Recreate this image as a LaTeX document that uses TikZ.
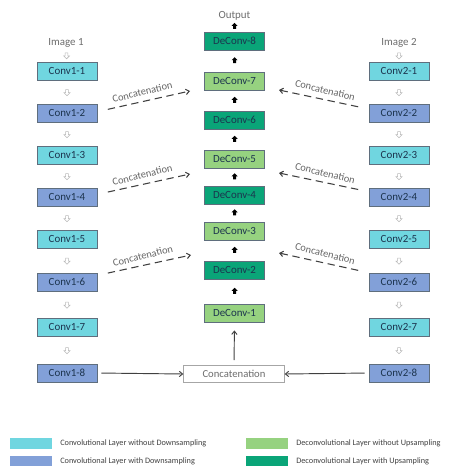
\documentclass[tikz,border=0pt]{standalone}
\usepackage{fontspec}
\setmainfont{Carlito}
\usepackage{tikz}
\usetikzlibrary{calc,shapes.arrows,arrows.meta}

\definecolor{convplain}{RGB}{112,214,224}
\definecolor{convdown}{RGB}{130,160,216}
\definecolor{deplain}{RGB}{150,210,128}
\definecolor{deup}{RGB}{10,165,120}
\definecolor{boxline}{RGB}{95,110,125}
\definecolor{boxtext}{RGB}{28,52,78}

\tikzset{
  layer/.style={draw=boxline, line width=0.6pt, minimum width=45pt, minimum height=13.5pt, inner sep=0pt, text=boxtext, font=\fontsize{8.2}{9}\selectfont},
  cplain/.style={layer, fill=convplain},
  cdown/.style={layer, fill=convdown},
  dplain/.style={layer, fill=deplain},
  dup/.style={layer, fill=deup},
  hollowarr/.style={single arrow, draw=gray!55, fill=white, line width=0.4pt, shape border rotate=270, minimum height=4.5pt, minimum width=4.5pt, single arrow head extend=1pt, inner sep=0.7pt},
  blackarr/.style={single arrow, draw=none, fill=black, shape border rotate=90, minimum height=4.5pt, minimum width=4.5pt, single arrow head extend=1pt, inner sep=0.8pt},
  concat/.style={dashed, dash pattern=on 5.5pt off 3.5pt, line width=0.8pt, black!75, -{Straight Barb[length=2.5pt,width=4pt]}, shorten <=8pt},
  concatlbl/.style={text=gray!80!black, font=\fontsize{7.8}{9}\selectfont, inner sep=1pt},
  plainlbl/.style={text=gray!85!black, font=\fontsize{8.2}{9}\selectfont, inner sep=0.75pt},
  swatch/.style={minimum width=31.5pt, minimum height=8pt, inner sep=0pt},
  legtext/.style={anchor=west, text=black!75, font=\fontsize{6.2}{7}\selectfont, inner sep=0pt},
}

\begin{document}
\begin{tikzpicture}[x=0.75pt,y=0.75pt,yscale=-1,xscale=1]
\useasboundingbox (0,0) rectangle (467,467);

% Text Node
\node (img1) at (66,43) [plainlbl] {Image 1};
% Text Node
\node (img2) at (399,43) [plainlbl] {Image 2};
% Text Node
\node (out) at (234.5,16) [plainlbl] {Output};

%Shape: Rectangle -- encoder of image 1
\node (c11) at (67,71) [cplain] {Conv1-1};
\node (c12) at (67,113) [cdown] {Conv1-2};
\node (c13) at (67,155) [cplain] {Conv1-3};
\node (c14) at (67,197) [cdown] {Conv1-4};
\node (c15) at (67,239) [cplain] {Conv1-5};
\node (c16) at (67,282) [cdown] {Conv1-6};
\node (c17) at (67,327) [cplain] {Conv1-7};
\node (c18) at (67,373) [cdown] {Conv1-8};

%Shape: Rectangle -- encoder of image 2
\node (c21) at (399,71) [cplain] {Conv2-1};
\node (c22) at (399,113) [cdown] {Conv2-2};
\node (c23) at (399,155) [cplain] {Conv2-3};
\node (c24) at (399,197) [cdown] {Conv2-4};
\node (c25) at (399,239) [cplain] {Conv2-5};
\node (c26) at (399,282) [cdown] {Conv2-6};
\node (c27) at (399,327) [cplain] {Conv2-7};
\node (c28) at (399,373) [cdown] {Conv2-8};

%Shape: Rectangle -- decoder
\node (d8) at (234.5,41) [dup] {DeConv-8};
\node (d7) at (234.5,81) [dplain] {DeConv-7};
\node (d6) at (234.5,120) [dup] {DeConv-6};
\node (d5) at (234.5,159) [dplain] {DeConv-5};
\node (d4) at (234.5,195) [dup] {DeConv-4};
\node (d3) at (234.5,231) [dplain] {DeConv-3};
\node (d2) at (234.5,270) [dup] {DeConv-2};
\node (d1) at (234.5,313) [dplain] {DeConv-1};

%Shape: Rectangle
\node (cat) at (234,374) [draw=gray!70, line width=0.5pt, minimum width=75.5pt, minimum height=12.5pt, inner sep=0pt, text=gray!85!black, font=\fontsize{8}{9}\selectfont] {Concatenation};

% small hollow arrows
\node [hollowarr] at ($(img1.south)!0.5!(c11.north)$) {};
\node [hollowarr] at ($(c11.south)!0.5!(c12.north)$) {};
\node [hollowarr] at ($(c12.south)!0.5!(c13.north)$) {};
\node [hollowarr] at ($(c13.south)!0.5!(c14.north)$) {};
\node [hollowarr] at ($(c14.south)!0.5!(c15.north)$) {};
\node [hollowarr] at ($(c15.south)!0.5!(c16.north)$) {};
\node [hollowarr] at ($(c16.south)!0.5!(c17.north)$) {};
\node [hollowarr] at ($(c17.south)!0.5!(c18.north)$) {};
\node [hollowarr] at ($(img2.south)!0.5!(c21.north)$) {};
\node [hollowarr] at ($(c21.south)!0.5!(c22.north)$) {};
\node [hollowarr] at ($(c22.south)!0.5!(c23.north)$) {};
\node [hollowarr] at ($(c23.south)!0.5!(c24.north)$) {};
\node [hollowarr] at ($(c24.south)!0.5!(c25.north)$) {};
\node [hollowarr] at ($(c25.south)!0.5!(c26.north)$) {};
\node [hollowarr] at ($(c26.south)!0.5!(c27.north)$) {};
\node [hollowarr] at ($(c27.south)!0.5!(c28.north)$) {};

% small black arrows
\node [blackarr] at ($(d8.north)!0.5!(out.south)$) {};
\node [blackarr] at ($(d7.north)!0.5!(d8.south)$) {};
\node [blackarr] at ($(d6.north)!0.5!(d7.south)$) {};
\node [blackarr] at ($(d5.north)!0.5!(d6.south)$) {};
\node [blackarr] at ($(d4.north)!0.5!(d5.south)$) {};
\node [blackarr] at ($(d3.north)!0.5!(d4.south)$) {};
\node [blackarr] at ($(d2.north)!0.5!(d3.south)$) {};
\node [blackarr] at ($(d1.north)!0.5!(d2.south)$) {};

% ends of the skip connections
\coordinate (l7) at (190,91);
\coordinate (l5) at (190,174);
\coordinate (l3) at (191,255);
\coordinate (r7) at (279,90);
\coordinate (r5) at (279,173);
\coordinate (r3) at (279,253);

%Straight Lines -- skip connections
\draw [concat] ([yshift=-1]c12.east) -- (l7) node [concatlbl, midway, above=3pt, rotate=14] {Concatenation};
\draw [concat] ([yshift=-2]c14.east) -- (l5) node [concatlbl, midway, above=3pt, rotate=14] {Concatenation};
\draw [concat] ([yshift=-5]c16.east) -- (l3) node [concatlbl, midway, above=3pt, rotate=14] {Concatenation};
\draw [concat] ([yshift=-3]c22.west) -- (r7) node [concatlbl, midway, above=3pt, rotate=-14] {Concatenation};
\draw [concat] ([yshift=-4]c24.west) -- (r5) node [concatlbl, midway, above=3pt, rotate=-14] {Concatenation};
\draw [concat] ([yshift=-7]c26.west) -- (r3) node [concatlbl, midway, above=3pt, rotate=-14] {Concatenation};

%Straight Lines
\draw [black!75, line width=0.7pt, -{Straight Barb[length=2.5pt,width=4pt]}, shorten <=3pt] (c18.east) -- (cat.west);
\draw [black!75, line width=0.7pt, -{Straight Barb[length=2.5pt,width=4pt]}, shorten <=3pt] (c28.west) -- (cat.east);
\draw [black!75, line width=0.7pt, -{Straight Barb[length=2.5pt,width=4pt]}, shorten <=4pt, shorten >=6pt] (cat.north) -- (d1.south);

% legend
\node (s1) at (31,443.5) [swatch, fill=convplain] {};
\node (s2) at (31,461) [swatch, fill=convdown] {};
\node (s3) at (266.5,443.5) [swatch, fill=deplain] {};
\node (s4) at (266.5,461) [swatch, fill=deup] {};
\node (t1) at (60,443.5) [legtext] {Convolutional Layer without Downsampling};
\node (t2) at (60,461) [legtext] {Convolutional Layer with Downsampling};
\node (t3) at (296,443.5) [legtext] {Deconvolutional Layer without Upsampling};
\node (t4) at (296,461) [legtext] {Deconvolutional Layer with Upsampling};

\end{tikzpicture}
\end{document}
